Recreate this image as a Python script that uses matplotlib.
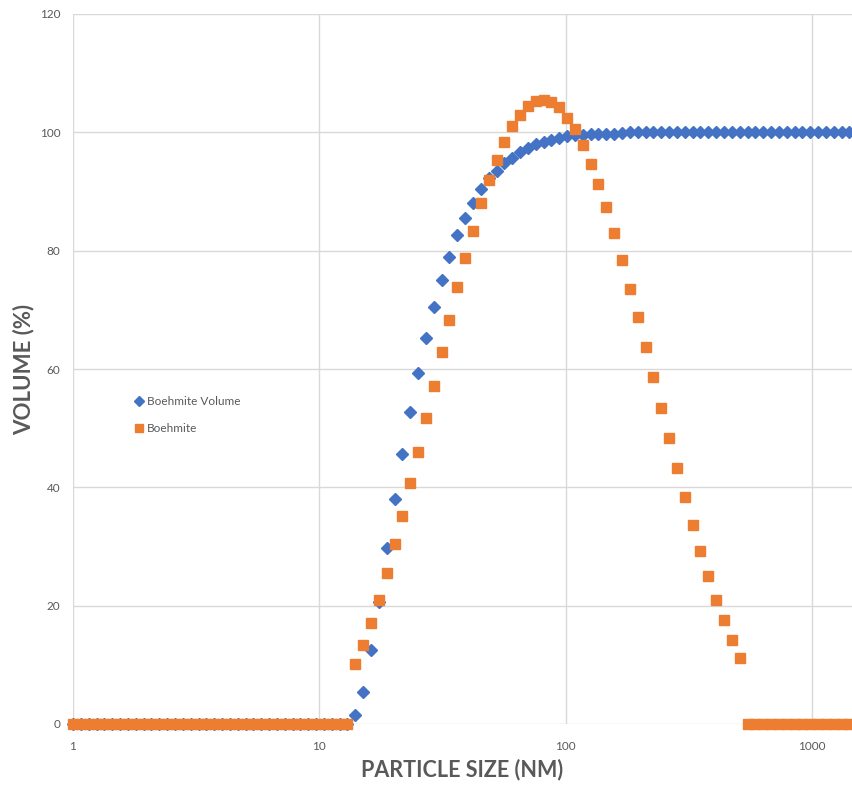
import matplotlib
matplotlib.use("Agg")
import matplotlib.pyplot as plt

plt.rcParams['font.family'] = ['Lato', 'DejaVu Sans']

# particle size bins (nm)
size_nm = [
    1.000, 1.076, 1.158, 1.246, 1.341, 1.443, 1.553, 1.671, 1.798, 1.934,
    2.081, 2.239, 2.410, 2.593, 2.790, 3.003, 3.231, 3.477, 3.741, 4.026,
    4.332, 4.661, 5.016, 5.397, 5.808, 6.249, 6.725, 7.236, 7.787, 8.379,
    9.016, 9.699, 10.44, 11.23, 12.08, 13.00, 13.99, 15.06, 16.20, 17.43,
    18.76, 20.19, 21.72, 23.37, 25.15, 27.06, 29.12, 31.34, 33.72, 36.28,
    39.04, 42.01, 45.21, 48.64, 52.34, 56.32, 60.61, 65.22, 70.18, 75.51,
    81.25, 87.43, 94.07, 101.2, 108.9, 117.2, 126.1, 135.7, 146.0, 157.1,
    169.1, 181.9, 195.8, 210.7, 226.7, 243.9, 262.5, 282.4, 303.9, 327.0,
    351.9, 378.6, 407.4, 438.4, 471.7, 507.6, 546.2, 587.7, 632.4, 680.5,
    732.3, 788.0, 847.9, 912.4, 981.8, 1056, 1137, 1223, 1316, 1416,
]

# cumulative volume (%)
boehmite_volume = [0.0] * 36 + [
    1.5, 5.4, 12.5, 20.7, 29.7, 38.0, 45.7, 52.8, 59.4, 65.3,
    70.5, 75.1, 78.9, 82.6, 85.6, 88.0, 90.4, 92.2, 93.5, 94.9,
    95.7, 96.6, 97.4, 98.0, 98.4, 98.7, 99.0, 99.3, 99.5, 99.6,
    99.7, 99.7, 99.8, 99.8, 99.9,
] + [100.0] * 29

# distribution (scaled)
boehmite = [0.0] * 36 + [
    10.2, 13.3, 17.0, 21.0, 25.5, 30.5, 35.2, 40.7, 46.0, 51.8,
    57.2, 62.8, 68.3, 73.8, 78.7, 83.3, 88.0, 92.0, 95.3, 98.3,
    101.0, 103.0, 104.5, 105.3, 105.4, 105.1, 104.2, 102.4, 100.5, 97.8,
    94.7, 91.3, 87.3, 83.0, 78.5, 73.6, 68.8, 63.8, 58.6, 53.4,
    48.3, 43.2, 38.4, 33.6, 29.3, 25.0, 21.0, 17.6, 14.2, 11.2,
] + [0.0] * 14

y_ticks = [0, 20, 40, 60, 80, 100, 120]
x_ticks = [1, 10, 100, 1000]

fig = plt.figure(figsize=(8.52, 7.85), dpi=100)
ax = fig.add_axes([73 / 852, 1 - 724 / 785, 1 - 73 / 852, 710 / 785])

ax.plot(size_nm, boehmite_volume, linestyle='none', marker='D', markersize=6,
        color='#4472C4', label='Boehmite Volume', zorder=3, clip_on=False)
ax.plot(size_nm, boehmite, linestyle='none', marker='s', markersize=6.5,
        color='#ED7D31', label='Boehmite', zorder=4, clip_on=False)

ax.set_xscale('log')
ax.set_xlim(1, 1450)
ax.set_ylim(0, 120)
ax.set_xticks(x_ticks)
ax.set_xticklabels([str(t) for t in x_ticks])
ax.xaxis.set_minor_locator(matplotlib.ticker.NullLocator())
ax.set_yticks(y_ticks)

ax.grid(True, color='#D9D9D9', linewidth=1)
ax.set_axisbelow(True)
for s in ax.spines.values():
    s.set_visible(False)
ax.tick_params(length=0, colors='#595959', labelsize=8.5)
ax.tick_params(axis='x', pad=12)
ax.tick_params(axis='y', pad=9)

ax.set_xlabel('PARTICLE SIZE (NM)', fontsize=15.5, fontweight='bold', color='#595959', labelpad=5)
ax.set_ylabel('VOLUME (%)', fontsize=16, fontweight='bold', color='#595959', labelpad=4)

leg = ax.legend(loc='center left', bbox_to_anchor=(0.065, 0.435), frameon=False,
                fontsize=8.5, handlelength=0.8, handletextpad=0.3, labelspacing=1.3,
                markerscale=0.8)
for t in leg.get_texts():
    t.set_color('#595959')

fig.savefig('out.png', dpi=100)
